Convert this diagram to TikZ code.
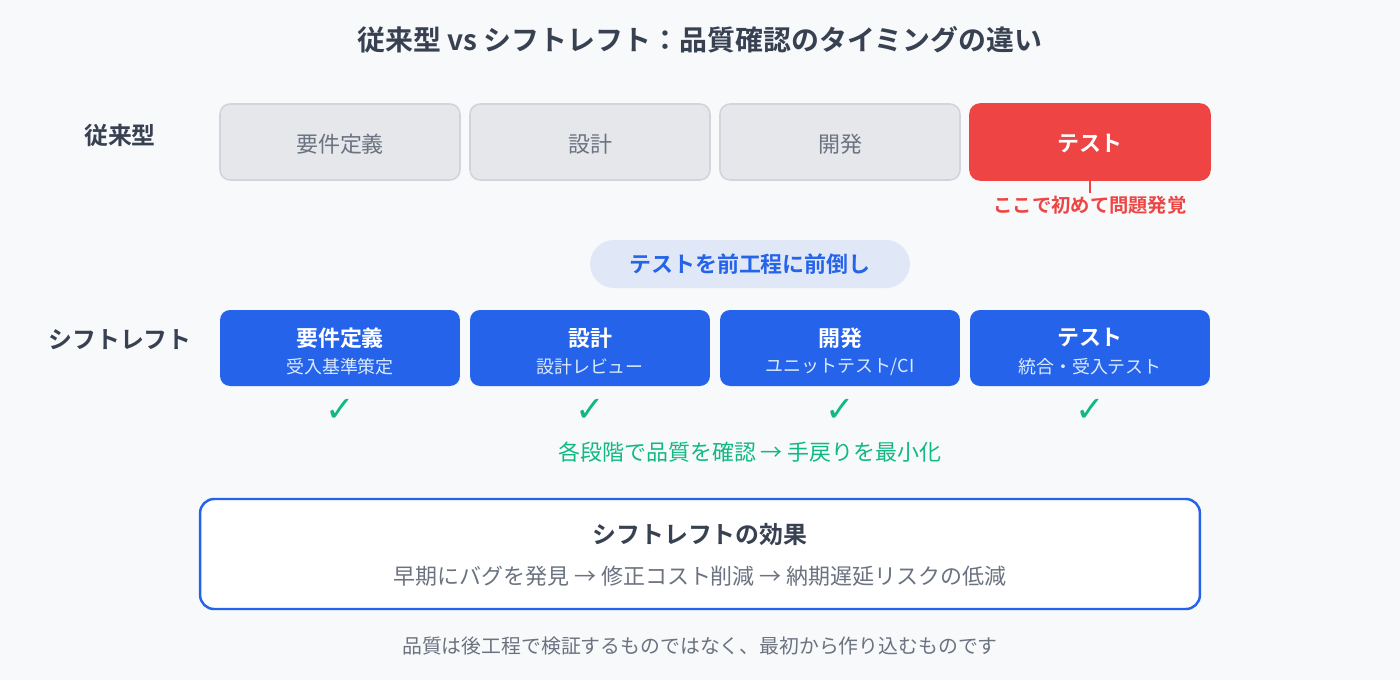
\documentclass[tikz,border=0pt]{standalone}
\usepackage{fontspec}
\setmainfont{Noto Sans CJK JP}[BoldFont={Noto Sans CJK JP Bold}]
\newfontfamily\checkfont{DejaVu Sans}

\definecolor{bgcol}{HTML}{F8F9FB}
\definecolor{darktext}{HTML}{374151}
\definecolor{graytext}{HTML}{6B7280}
\definecolor{grayfill}{HTML}{E5E7EB}
\definecolor{graybd}{HTML}{D1D5DB}
\definecolor{alertred}{HTML}{EF4444}
\definecolor{mainblue}{HTML}{2563EB}
\definecolor{pillfill}{HTML}{E0E8F7}
\definecolor{subblue}{HTML}{DBEAFE}
\definecolor{okgreen}{HTML}{10B981}

\tikzset{
  oldphase/.style = {draw = graybd, fill = grayfill, line width = 0.9pt, rounded corners = 0.2cm,
                     minimum width = 4.8cm, minimum height = 1.52cm, text = graytext,
                     font = \fontsize{12.5}{15}\selectfont},
  badphase/.style = {oldphase, draw = alertred, fill = alertred, text = white,
                     font = \fontsize{12.5}{15}\selectfont\bfseries},
  newphase/.style = {fill = mainblue, rounded corners = 0.2cm,
                     minimum width = 4.8cm, minimum height = 1.52cm},
  phasetitle/.style = {text = white, inner sep = 0, font = \fontsize{12.5}{15}\selectfont\bfseries},
  phasesub/.style = {text = subblue, inner sep = 0, font = \fontsize{10.2}{12}\selectfont},
  rowlabel/.style = {text = darktext, font = \fontsize{13.6}{16}\selectfont\bfseries},
  okmark/.style = {text = okgreen, inner sep = 0, font = \checkfont\fontsize{20}{22}\selectfont}
}

\begin{document}
\begin{tikzpicture}[x = 0.02cm, y = -0.02cm]
	 % background and page size
	 \fill[bgcol] (0, 0) rectangle (1400, 680);
	 
	 \node[text = darktext, font = \fontsize{15.9}{18}\selectfont\bfseries] (title) at (700, 40)
	   {従来型 vs シフトレフト：品質確認のタイミングの違い};
	 
	 % traditional order
	 \node[rowlabel] (oldlabel) at (120, 135) {従来型};
	 \node[oldphase] (old1) at (340, 142) {};
	 \node[oldphase] (old2) at (590, 142) {};
	 \node[oldphase] (old3) at (840, 142) {};
	 \node[badphase] (old4) at (1090, 142) {};
	 \node[text = graytext, font = \fontsize{12.5}{15}\selectfont] (old1t) at (340, 144) {要件定義};
	 \node[text = graytext, font = \fontsize{12.5}{15}\selectfont] (old2t) at (590, 144) {設計};
	 \node[text = graytext, font = \fontsize{12.5}{15}\selectfont] (old3t) at (840, 144) {開発};
	 \node[text = white, font = \fontsize{12.5}{15}\selectfont\bfseries] (old4t) at (1090, 144) {テスト};
	 
	 \node[anchor = north, inner sep = 1.5pt, text = alertred, font = \fontsize{11}{13}\selectfont\bfseries]
	   (late) at (1090, 193) {ここで初めて問題発覚};
	 \draw[alertred, line width = 1.1pt] (old4.south) -- (late.north);
	 
	 % moving the tests forward
	 \node[fill = pillfill, rounded corners = 0.48cm, minimum width = 6.4cm, minimum height = 0.96cm,
	       text = mainblue, font = \fontsize{12.5}{15}\selectfont\bfseries] (shift) at (750, 264)
	   {テストを前工程に前倒し};
	 
	 % shift left order
	 \node[rowlabel] (newlabel) at (120, 340) {シフトレフト};
	 \node[newphase] (new1) at (340, 348) {};
	 \node[newphase] (new2) at (590, 348) {};
	 \node[newphase] (new3) at (840, 348) {};
	 \node[newphase] (new4) at (1090, 348) {};
	 
	 \node[phasetitle] (new1t) at (340, 338) {要件定義};
	 \node[phasesub] (new1s) at (340, 367) {受入基準策定};
	 \node[phasetitle] (new2t) at (590, 338) {設計};
	 \node[phasesub] (new2s) at (590, 367) {設計レビュー};
	 \node[phasetitle] (new3t) at (840, 338) {開発};
	 \node[phasesub] (new3s) at (840, 367) {ユニットテスト/CI};
	 \node[phasetitle] (new4t) at (1090, 338) {テスト};
	 \node[phasesub] (new4s) at (1090, 367) {統合・受入テスト};
	 
	 \foreach \n/\x in {1/340, 2/590, 3/840, 4/1090}
	 \node[okmark] (ok\n) at (\x, 410) {✓};
	 
	 \node[text = okgreen, font = \fontsize{12.5}{15}\selectfont] (okline) at (750, 452)
	   {各段階で品質を確認 → 手戻りを最小化};
	 
	 % effect box
	 \node[draw = mainblue, fill = white, line width = 1.4pt, rounded corners = 0.28cm,
	       minimum width = 20cm, minimum height = 2.2cm] (effect) at (700, 554) {};
	 \node[text = darktext, font = \fontsize{13.6}{16}\selectfont\bfseries] (efftitle) at (700, 535)
	   {シフトレフトの効果};
	 \node[text = graytext, font = \fontsize{12.5}{15}\selectfont] (effline) at (700, 576)
	   {早期にバグを発見 → 修正コスト削減 → 納期遅延リスクの低減};
	 
	 \node[text = graytext, font = \fontsize{11.3}{13}\selectfont] (footer) at (700, 646)
	   {品質は後工程で検証するものではなく、最初から作り込むものです};
\end{tikzpicture}
\end{document}
